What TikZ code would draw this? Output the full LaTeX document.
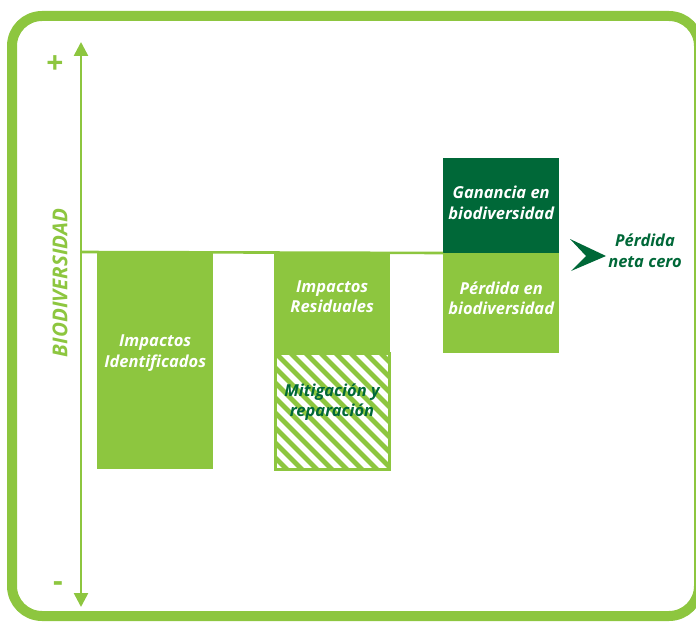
\documentclass[tikz,border=0pt]{standalone}
\usepackage{fontspec}
\setmainfont{Open Sans}
\usetikzlibrary{
  arrows.meta,
  positioning
}

\definecolor{verdeclaro}{HTML}{8DC63F}
\definecolor{verdeoscuro}{HTML}{006838}

\tikzset{
  caja/.style={
    rectangle, inner sep=0pt, anchor=north west,
    fill=verdeclaro, minimum width=116pt
  },
  rotulo/.style={
    text=white, font=\fontsize{16.5}{20.5}\selectfont\bfseries\itshape,
    align=center, inner sep=0pt
  },
  ejeflecha/.style={
    draw=verdeclaro, line width=2.6pt,
    {Triangle[width=14pt,length=14pt]}-{Triangle[width=14pt,length=14pt]}
  }
}

\begin{document}
\begin{tikzpicture}[x=1pt, y=-1pt]
\useasboundingbox (0,0) rectangle (696,623);
% marco
\begin{scope}
  \clip (0,0) rectangle (696,623);
  \draw[verdeclaro, line width=10pt, rounded corners=30pt]
    (12,16) rectangle (699,616);
\end{scope}

% eje vertical
\coordinate (ejearriba) at (81,42);
\coordinate (ejeabajo) at (81,607);
\draw[ejeflecha] (ejeabajo) -- (ejearriba);
\node[text=verdeclaro, font=\fontsize{30}{30}\selectfont\bfseries] (mas) at (55,65) {+};
\node[text=verdeclaro, font=\fontsize{30}{30}\selectfont\bfseries] (menos) at (58,587) {-};
\node[rotate=90, text=verdeclaro, font=\fontsize{20.5}{20.5}\selectfont\bfseries\itshape,
  inner sep=0pt] (bio) at (60,283) {BIODIVERSIDAD};

% cajas
\node[caja, minimum height=216pt] (identificados) at (97,253) {};
\node[caja, minimum height=99pt] (residuales) at (274,253) {};
\node[caja, minimum height=95pt, fill=verdeoscuro] (ganancia) at (443,158) {};
\node[caja, minimum height=100pt] (perdida) at (443,253) {};

% caja rayada
\coordinate (mitNO) at (275,353);
\coordinate (mitSE) at (389,469);
\fill[verdeclaro] (mitNO) rectangle (mitSE);
\begin{scope}
  \clip (mitNO) rectangle (mitSE);
  \foreach \d in {0,15,...,270}
    \draw[white, line width=5.5pt] (260+\d,480) -- (260+\d-140,340);
\end{scope}
\draw[verdeclaro, line width=3pt] (mitNO) rectangle (mitSE);

% linea base
\draw[verdeclaro, line width=2.6pt] (81,252) -- (perdida.north west);

% textos
\node[rotulo] (txtidentificados) at ([yshift=8pt]identificados.center)
  {Impactos\\Identificados};
\node[rotulo] (txtresiduales) at ([yshift=6pt]residuales.center)
  {Impactos\\Residuales};
\node[rotulo, text=verdeoscuro] (txtmitigacion) at (332,402)
  {Mitigación y\\reparación};
\node[rotulo] (txtganancia) at ([yshift=3pt]ganancia.center)
  {Ganancia en\\biodiversidad};
\node[rotulo] (txtperdida) at ([yshift=5pt]perdida.center)
  {Pérdida en\\biodiversidad};

% flecha resultado
\fill[verdeoscuro] (570,239) -- (606,256) -- (571,271)
  .. controls (578,264) .. (586,256) .. controls (578,248) .. cycle;
\node[rotulo, text=verdeoscuro] (netacero) at (645,251)
  {Pérdida\\neta cero};
\end{tikzpicture}
\end{document}
